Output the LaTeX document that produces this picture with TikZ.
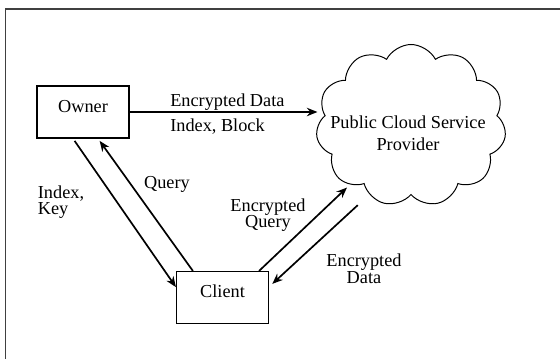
\documentclass[tikz,border=0pt]{standalone}
\usepackage{fontspec}
\setmainfont{Liberation Serif}
\usepackage{tikz}
\usetikzlibrary{arrows, arrows.meta, shapes, shapes.symbols, positioning}

\tikzset{party/.style={rectangle, draw=black, line width=0.8pt, minimum width=2.3cm, minimum height=1.3cm, text height=0.4cm, text depth=0.4cm}}
\tikzset{txt/.style={font=\fontsize{13pt}{11.8pt}\selectfont, inner sep=0pt}}
\tikzset{flow/.style={->, line width=1.2pt}}

\begin{document}
\begin{tikzpicture}[x=0.025cm,y=-0.025cm,>={Stealth[length=7.5pt,width=6pt]}]

\useasboundingbox (0,0) rectangle (560,358);

% Frame
\draw[line width=1.1pt, black!75] (5.5,360) -- (5.5,9) -- (562,9);

% The parties
\node (owner) at (83,112) [party, txt] {Owner};
\node (client) at (222.5,297.5) [party, txt] {Client};

% The cloud
\node (cloud) at (411,125.5) [cloud, draw, line width=0.7pt, cloud puffs=11, cloud puff arc=125, minimum width=4.75cm, minimum height=4.05cm] {};
\node (csp) at (408,133) [txt, align=center, font=\fontsize{13pt}{15.5pt}\selectfont] {Public Cloud Service\\Provider};

% Owner to cloud
\draw[flow] (owner.east) -- (owner.east -| cloud.west);
\node (encdata) at (170,106) [txt, anchor=base west] {Encrypted Data};
\node (idxblock) at (170,131) [txt, anchor=base west] {Index, Block};

% Owner and client
\draw[flow, shorten <=2pt] ([xshift=-0.25cm]owner.south) -- ([yshift=0.26cm]client.west);
\draw[flow, shorten >=2pt] ([xshift=-0.74cm]client.north) -- ([xshift=0.375cm]owner.south);
\node (idxkey) at (61,202) [txt, align=left] {Index,\\Key};
\node (query) at (167,184) [txt] {Query};

% Client and cloud
\draw[flow] ([xshift=-0.25cm]client.north east) -- ([shift={(-1.6cm,-1.55cm)}]cloud.center);
\draw[flow] ([shift={(-1.33cm,-1.99cm)}]cloud.center) -- ([yshift=0.34cm,xshift=0.08cm]client.east);
\node (encquery) at (268,215) [txt, align=center] {Encrypted\\Query};
\node (encdata2) at (364,269) [txt, align=center] {Encrypted\\Data};

\end{tikzpicture}
\end{document}
